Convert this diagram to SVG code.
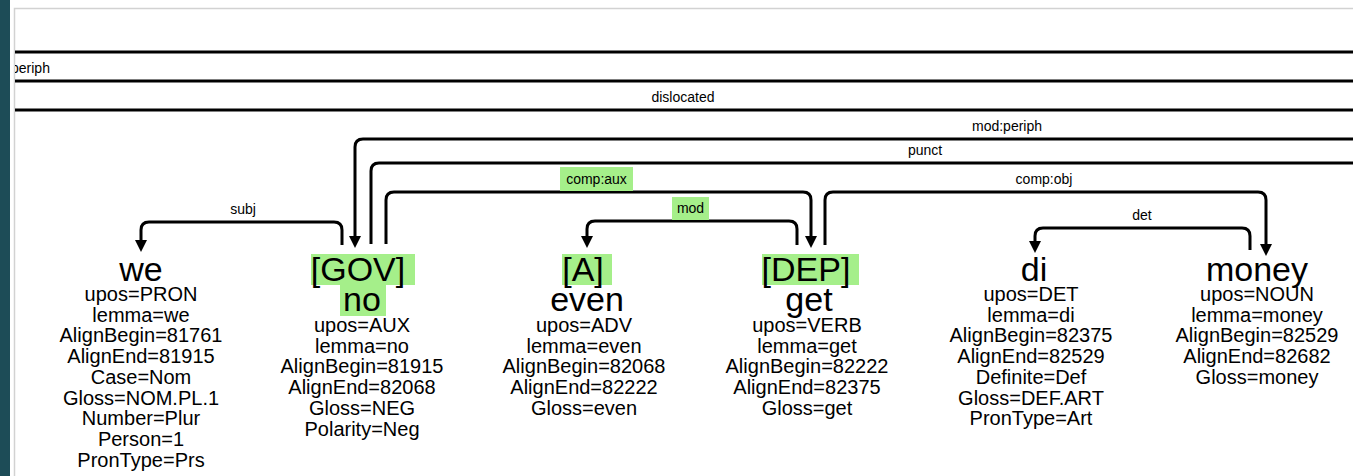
<svg xmlns="http://www.w3.org/2000/svg" width="1353" height="476" viewBox="0 0 1353 476">
<style>
text{font-family:"Liberation Sans",Arial,sans-serif;fill:#000}
.w{font-size:34px;text-anchor:middle}
.f{font-size:20px;text-anchor:middle}
.l{font-size:14px;text-anchor:middle}
.arc{fill:none;stroke:#000;stroke-width:3}
.hl{fill:#a5ef8a}
</style>
<defs>
<marker id="arr" markerUnits="userSpaceOnUse" markerWidth="12" markerHeight="12" viewBox="0 0 12 12" refX="1" refY="6" orient="auto">
<path d="M0,0 L12,6 L0,12 z" fill="#000"/>
</marker>
<clipPath id="clip"><rect x="15" y="9" width="1338" height="467"/></clipPath>
</defs>
<rect x="0" y="0" width="1353" height="476" fill="#fff"/>
<rect x="0" y="0" width="10" height="476" fill="#1d4c57"/>
<path d="M14.5,476 V8.5 H1353" fill="none" stroke="#d2d2d2" stroke-width="1.5"/>
<g id="connectors" clip-path="url(#clip)">
<path class="arc" d="M14,52 H1353"/>
<path class="arc" d="M14,81 H1353"/>
<text class="l" x="11" y="73" style="text-anchor:start">periph</text>
<path class="arc" d="M14,110 H1353"/>
<text class="l" x="683" y="102">dislocated</text>
<path class="arc" d="M1353,139 H363 Q355,139 355,147 V237" marker-end="url(#arr)"/>
<text class="l" x="1007" y="131">mod:periph</text>
<path class="arc" d="M371,244 V171 Q371,163 379,163 H1353"/>
<text class="l" x="925" y="155">punct</text>
<path class="arc" d="M386,244 V200 Q386,192 394,192 H803 Q811,192 811,200 V237" marker-end="url(#arr)"/>
<rect class="hl" x="560" y="167" width="73" height="24"/>
<text class="l" x="596.5" y="184">comp:aux</text>
<path class="arc" d="M797,245 V229 Q797,221 789,221 H595 Q587,221 587,229 V237" marker-end="url(#arr)"/>
<rect class="hl" x="672" y="197" width="37" height="23"/>
<text class="l" x="690.5" y="213">mod</text>
<path class="arc" d="M825,245 V200 Q825,192 833,192 H1258 Q1266,192 1266,200 V245" marker-end="url(#arr)"/>
<text class="l" x="1044" y="184">comp:obj</text>
<path class="arc" d="M1250,250 V236 Q1250,228 1242,228 H1043 Q1035,228 1035,236 V242" marker-end="url(#arr)"/>
<text class="l" x="1142" y="220">det</text>
<path class="arc" d="M342,245 V230 Q342,222 334,222 H149 Q141,222 141,230 V241" marker-end="url(#arr)"/>
<text class="l" x="243" y="214">subj</text>
</g>
<g id="node-we">
<text class="w" x="141" y="281">we</text>
<text class="f" x="141" y="301">upos=PRON</text>
<text class="f" x="141" y="321.7">lemma=we</text>
<text class="f" x="141" y="342.4">AlignBegin=81761</text>
<text class="f" x="141" y="363.1">AlignEnd=81915</text>
<text class="f" x="141" y="383.8">Case=Nom</text>
<text class="f" x="141" y="404.5">Gloss=NOM.PL.1</text>
<text class="f" x="141" y="425.2">Number=Plur</text>
<text class="f" x="141" y="445.9">Person=1</text>
<text class="f" x="141" y="466.6">PronType=Prs</text>
</g>
<g id="node-no">
<rect class="hl" x="311" y="254" width="104" height="31"/>
<rect class="hl" x="340" y="285" width="46" height="31"/>
<text class="w" x="358" y="281">[GOV]</text>
<text class="w" x="362" y="311">no</text>
<text class="f" x="362" y="332">upos=AUX</text>
<text class="f" x="362" y="352.7">lemma=no</text>
<text class="f" x="362" y="373.4">AlignBegin=81915</text>
<text class="f" x="362" y="394.1">AlignEnd=82068</text>
<text class="f" x="362" y="414.8">Gloss=NEG</text>
<text class="f" x="362" y="435.5">Polarity=Neg</text>
</g>
<g id="node-even">
<rect class="hl" x="562" y="254" width="50" height="31"/>
<text class="w" x="583" y="281">[A]</text>
<text class="w" x="587" y="311">even</text>
<text class="f" x="584" y="332">upos=ADV</text>
<text class="f" x="584" y="352.7">lemma=even</text>
<text class="f" x="584" y="373.4">AlignBegin=82068</text>
<text class="f" x="584" y="394.1">AlignEnd=82222</text>
<text class="f" x="584" y="414.8">Gloss=even</text>
</g>
<g id="node-get">
<rect class="hl" x="762" y="254" width="97" height="31"/>
<text class="w" x="806" y="281">[DEP]</text>
<text class="w" x="809" y="311">get</text>
<text class="f" x="807" y="332">upos=VERB</text>
<text class="f" x="807" y="352.7">lemma=get</text>
<text class="f" x="807" y="373.4">AlignBegin=82222</text>
<text class="f" x="807" y="394.1">AlignEnd=82375</text>
<text class="f" x="807" y="414.8">Gloss=get</text>
</g>
<g id="node-di">
<text class="w" x="1034" y="281">di</text>
<text class="f" x="1031" y="301">upos=DET</text>
<text class="f" x="1031" y="321.7">lemma=di</text>
<text class="f" x="1031" y="342.4">AlignBegin=82375</text>
<text class="f" x="1031" y="363.1">AlignEnd=82529</text>
<text class="f" x="1031" y="383.8">Definite=Def</text>
<text class="f" x="1031" y="404.5">Gloss=DEF.ART</text>
<text class="f" x="1031" y="425.2">PronType=Art</text>
</g>
<g id="node-money">
<text class="w" x="1257" y="281">money</text>
<text class="f" x="1257" y="301">upos=NOUN</text>
<text class="f" x="1257" y="321.7">lemma=money</text>
<text class="f" x="1257" y="342.4">AlignBegin=82529</text>
<text class="f" x="1257" y="363.1">AlignEnd=82682</text>
<text class="f" x="1257" y="383.8">Gloss=money</text>
</g>
</svg>
